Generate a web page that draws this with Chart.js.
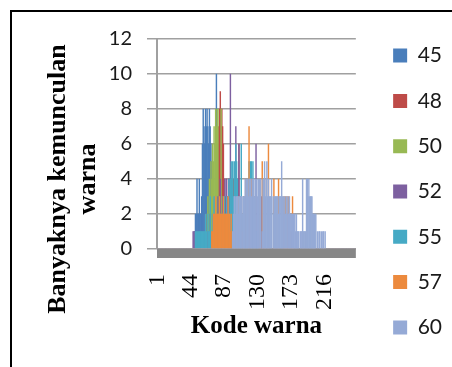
<!DOCTYPE html>
<html>
<head>
<meta charset="utf-8">
<script src="https://cdn.jsdelivr.net/npm/chart.js@4.4.1/dist/chart.umd.min.js"></script>
<style>
html,body{margin:0;padding:0;background:#fff;overflow:hidden}
#wrap{position:relative;width:452px;height:367px;overflow:hidden;background:#fff}
#frame{position:absolute;left:10px;top:10px;width:700px;height:700px;border-left:2px solid #000;border-top:2px solid #000;pointer-events:none}
canvas{position:absolute;left:0;top:0}
</style>
</head>
<body>
<div id="wrap"><canvas id="c" width="452" height="367"></canvas><div id="frame"></div></div>
<script>
// Category axis: colour codes 1..256
const categoryCount = 256;
const categories = Array.from({length: categoryCount}, (_, i) => String(i + 1));
const tickLabels = ['1', '44', '87', '130', '173', '216'];
const yTicks = [0, 2, 4, 6, 8, 10, 12];

const seriesNames = ['45', '48', '50', '52', '55', '57', '60'];

// Each series: first category with a value, then the counts (zero elsewhere)
const s45Start = 49;
const s45 = [1,2,2,4,2,2,4,2,2,3, 6,8,7,6,8,7,8,7,6,8,7,6,5,4, 3,2,1,0,10];

const s48Start = 72;
const s48 = [1,2,3,2,4,5,6,6,7,8,9,7,8,7,6,4,
             2,3,4,3,2,4,3,2,4,3,2,4,3,4,3,2,3,4,6,3,2,1,2,1,1];

const s50Start = 64;
const s50 = [1,2,3,2,4,3,5,4,6,5,7,6,8,7,8,8,3,2,2,8,3,2,2,3,2,1,1];

const s52Start = 47;
const s52 = [1,1,1,1,1,1,1,1,
             0,0,0,0,1,0,0,0,2,0,0,1,0,0,2,0,0,0,1,0,0,2,0,0,3,0,0,4,0,2,
             3,0,2,4,0,4,3,0,4,0,10,0,4,2,0,3,0,7,0,2,0,6,0,2,0,1,
             1,0,1,0,2,1,0,1,0,0,1,0,0,0,0,0,0,6,0,0,0,0,0,0,3,0,0,0,0,0];

const s55Start = 50;
const s55 = [1,1,1,1,1,1,1,1,1,1,1,
             1,1,2,1,0,2,1,1,3,1,0,2,1,3,0,1,2,0,1,0,0,2,0,1,2,0,3,0,2,3,0,2,4,0,4,
             5,4,5,3,5,4,6,5,4,3,2,
             2,3,6,1,2,3,2,1,2,1,2,3,
             5,4,5,5,4,5,3,2,
             1,0,1,1];

const s57Start = 71;
const s57 = [1,1,2,2,2,3,2,2,2,2,3,2,2,2,2,3,2,2,2,2,2,3,2,2,1,2,
             0,1,0,2,0,1,0,0,3,0,2,0,0,1,0,3,0,0,4,0,0,3,
             7,
             0,0,4,0,0,0,3,0,0,0,0,0,4,0,0,
             0,
             5,0,0,4,0,0,0,0,
             6,
             0,0,0,0,0,0,
             4,
             0,0,0,0,0,
             4,
             0,0,0,0,0,0,3,0,3,0,3,0,3,0,0,1,0,3,0];

const s60Start = 98;
const s60 = [1,2,3,3,2,3,3,3,2,3,3,3,3,2,3,3,4,3,
             4,4,3,4,4,4,3,4,4,4,3,4,1,4,3,4,4,4,4,0,1,4,4,
             5,3,4,5,3,4,3,3,3,4,0,3,2,3,3,3,3,3,2,3,3,3,5,3,
             3,2,3,2,3,2,3,2,3,2,2,2,2,2,2,2,1,2,
             1,1,1,0,1,1,1,4,1,1,1,1,4,4,3,4,3,3,3,3,2,2,2,
             2,2,0,1,0,1,1,0,1,0,1,1,0,1,0];

const seriesStarts = [s45Start, s48Start, s50Start, s52Start, s55Start, s57Start, s60Start];
const seriesValues = [s45, s48, s50, s52, s55, s57, s60];
const colors = ['#4A7EBB', '#BE4B48', '#98B954', '#7D60A0', '#46AAC5', '#EC8A3E', '#95AAD6'];

const yTitleLines = ['Banyaknya kemunculan', 'warna'];
const xTitle = 'Kode warna';

function fullSeries(start, vals) {
  const out = new Array(categoryCount).fill(0);
  vals.forEach((v, i) => { out[start - 1 + i] = v; });
  return out;
}

const floorPlugin = {
  id: 'floor',
  beforeDatasetsDraw(chart) {
    const {ctx, chartArea, scales} = chart;
    const y0 = scales.y.getPixelForValue(0);
    ctx.save();
    ctx.fillStyle = '#878787';
    ctx.fillRect(chartArea.left, y0, chartArea.right - chartArea.left, 9);
    ctx.restore();
  }
};

const yTitlePlugin = {
  id: 'yTitle',
  afterDraw(chart) {
    const {ctx, chartArea} = chart;
    ctx.save();
    ctx.font = 'bold 26px "Liberation Serif"';
    ctx.fillStyle = '#000';
    ctx.textAlign = 'center';
    ctx.textBaseline = 'alphabetic';
    const cy = (chartArea.top + chartArea.bottom) / 2 + 35;
    yTitleLines.forEach((t, i) => {
      ctx.save();
      ctx.translate(chartArea.left - 92 + i * 30, cy);
      ctx.rotate(-Math.PI / 2);
      ctx.fillText(t, 0, 0);
      ctx.restore();
    });
    ctx.restore();
  }
};

new Chart(document.getElementById('c'), {
  type: 'bar',
  data: {
    labels: categories,
    datasets: seriesNames.map((n, i) => ({
      label: n,
      data: fullSeries(seriesStarts[i], seriesValues[i]),
      backgroundColor: colors[i],
      borderWidth: 0,
      grouped: false,
      barPercentage: 1,
      categoryPercentage: 1,
      order: seriesNames.length - i
    }))
  },
  options: {
    responsive: false,
    animation: false,
    devicePixelRatio: 1,
    layout: {padding: {top: 16, bottom: 0, left: 0, right: 0}},
    plugins: {
      title: {display: true, text: '', font: {size: 10}, padding: {top: 11, bottom: 0}},
      tooltip: {enabled: false},
      legend: {
        position: 'right',
        maxWidth: 84,
        labels: {
          boxWidth: 14, boxHeight: 14, padding: 24.3, color: '#1a1a1a',
          font: {family: 'Lato', size: 21},
          sort: (a, b) => a.datasetIndex - b.datasetIndex
        }
      }
    },
    scales: {
      x: {
        grid: {display: false},
        border: {display: false},
        ticks: {
          autoSkip: false, maxRotation: 90, minRotation: 90, padding: 17,
          color: '#000', font: {family: 'Liberation Serif', size: 24},
          callback(v, i) { const l = categories[i]; return tickLabels.includes(l) ? l : ''; }
        },
        title: {display: true, text: xTitle, color: '#000', font: {family: 'Liberation Serif', size: 25, weight: 'bold'}, padding: {top: 0, bottom: 25}},
        afterFit(s) { s.height = 118; }
      },
      y: {
        min: 0, max: 12,
        afterBuildTicks(s) { s.ticks = yTicks.map(v => ({value: v})); },
        ticks: {padding: 15, color: '#1a1a1a', font: {family: 'Lato', size: 20}},
        grid: {color: '#a0a0a0', lineWidth: 1.5, tickLength: 10},
        border: {color: '#a0a0a0', width: 2},
        afterFit(s) { s.width = 157; }
      },
      gap: {
        type: 'linear', position: 'right', display: true,
        ticks: {display: false}, grid: {display: false, drawTicks: false}, border: {display: false},
        afterFit(s) { s.width = 13; }
      }
    }
  },
  plugins: [floorPlugin, yTitlePlugin]
});
</script>
</body>
</html>
